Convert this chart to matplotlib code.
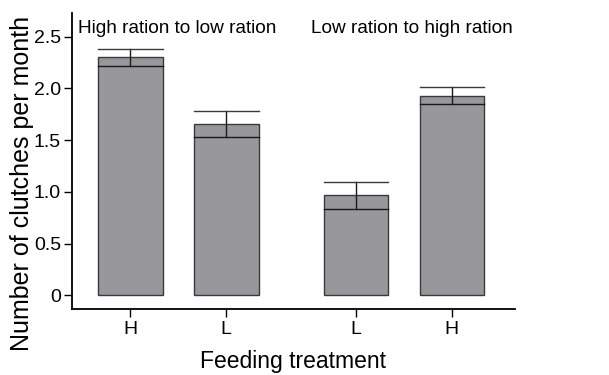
import matplotlib
matplotlib.use("Agg")
import matplotlib.pyplot as plt
import numpy as np

plt.rcParams['font.family'] = ['Liberation Sans', 'DejaVu Sans']

categories = ["H", "L", "L", "H"]
positions = [0, 1, 2.35, 3.35]
means = [2.30, 1.66, 0.965, 1.93]
errors = [0.085, 0.125, 0.13, 0.08]
yticks = [0, 0.5, 1.0, 1.5, 2.0, 2.5]
ytick_labels = ["0", "0.5", "1.0", "1.5", "2.0", "2.5"]
group_labels = ["High ration to low ration", "Low ration to high ration"]

fig = plt.figure(figsize=(6.09, 3.75), dpi=100)
ax = fig.add_axes([72/609, 1-309/375, (515-72)/609, (309-13)/375])

width = 0.672
ax.bar(positions, means, width=width, color="#98979c", edgecolor="#3a3a3a",
       linewidth=1.0, zorder=2)
for x, m, e in zip(positions, means, errors):
    ax.plot([x, x], [m - e, m + e], color="#1a1a1a", lw=1.0, zorder=3)
    ax.plot([x - width/2, x + width/2], [m + e, m + e], color="#3a3a3a", lw=1.0, zorder=3)
    ax.plot([x - width/2, x + width/2], [m - e, m - e], color="#1a1a1a", lw=1.0, zorder=3)

ax.set_xlim(-0.607, 4.007)
ax.set_ylim(-0.133, 2.73)
ax.set_xticks(positions)
ax.set_xticklabels(categories, fontsize=14)
ax.set_yticks(yticks)
ax.set_yticklabels(ytick_labels, fontsize=14)
ax.tick_params(axis='y', length=6, width=1.0, pad=2)
ax.tick_params(axis='x', length=6, width=1.0, pad=3)
for s in ["top", "right"]:
    ax.spines[s].set_visible(False)
for s in ["left", "bottom"]:
    ax.spines[s].set_linewidth(1.3)

fig.text(22/609, 1 - 183.5/375, "Number of clutches per month", rotation=90,
         ha="center", va="center", fontsize=18)
ax.set_xlabel("Feeding treatment", fontsize=16.5, labelpad=8)

ax.text(0.49, 2.537, group_labels[0], ha="center", va="baseline", fontsize=13.7)
ax.text(2.93, 2.537, group_labels[1], ha="center", va="baseline", fontsize=13.7)

fig.savefig("out.png", dpi=100)
